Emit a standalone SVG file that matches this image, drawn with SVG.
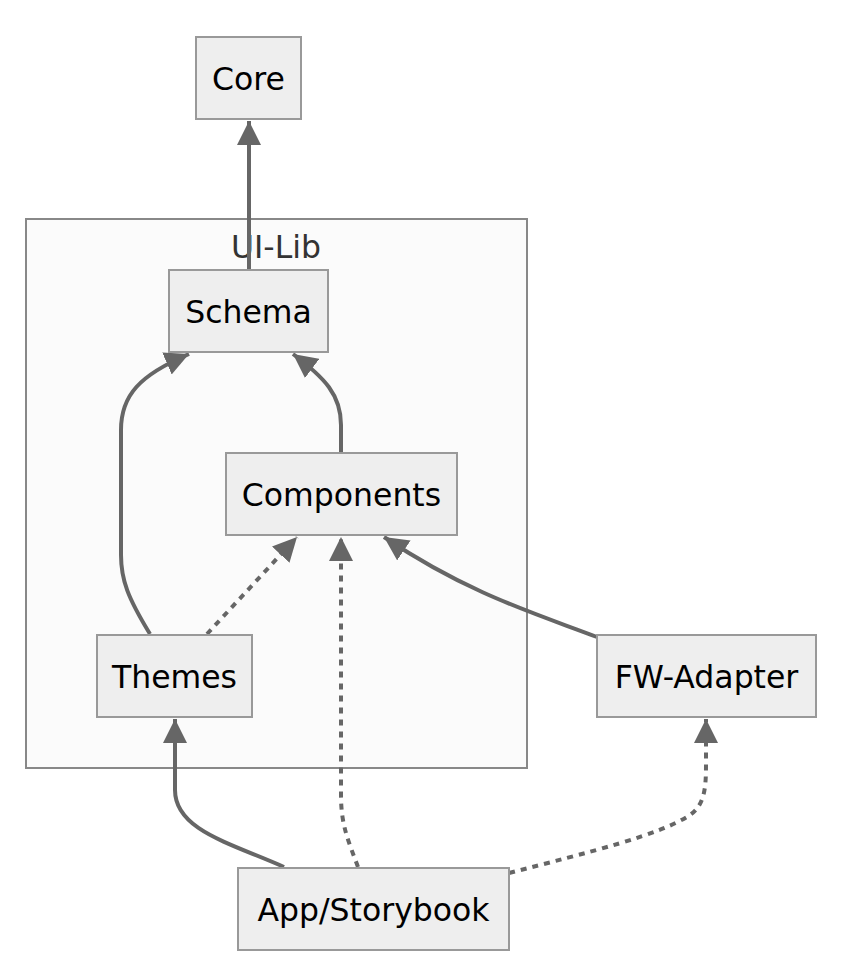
<svg xmlns="http://www.w3.org/2000/svg" width="852" height="970" viewBox="0 0 852 970">
<style>
.bg{fill:#ffffff}
.cluster rect{fill:#fbfbfb;stroke:#888888;stroke-width:2}
.cluster text{font-family:"DejaVu Sans",Verdana,sans-serif;font-size:31.5px;fill:#333333;text-anchor:middle}
.node rect{fill:#eeeeee;stroke:#999999;stroke-width:2}
.node text{font-family:"DejaVu Sans",Verdana,sans-serif;font-size:31.5px;fill:#000000;text-anchor:middle}
.edge{fill:none;stroke:#666666;stroke-width:4}
.dotted{stroke-dasharray:6 6}
</style>
<defs>
<marker id="arrow" markerUnits="userSpaceOnUse" markerWidth="24" markerHeight="24" refX="24" refY="12" orient="auto" viewBox="0 0 24 24">
<path d="M0,0 L24,12 L0,24 z" fill="#666666"/>
</marker>
</defs>
<rect class="bg" x="0" y="0" width="852" height="970"/>
<g id="cluster-UI-Lib" class="cluster">
<rect x="26" y="219" width="501" height="549"/>
<text x="276" y="258">UI-Lib</text>
</g>
<g id="edges">
<path class="edge" d="M249,270 L249,121" marker-end="url(#arrow)"/>
<path class="edge" d="M150,634 C128,598 121,580 121,555 L121,430 C121,395 140,375 189,354" marker-end="url(#arrow)"/>
<path class="edge" d="M341,452 L341,425 C341,395 325,378 293,354" marker-end="url(#arrow)"/>
<path class="edge dotted" d="M207,634 L297,537" marker-end="url(#arrow)"/>
<path class="edge dotted" d="M358,867 C348,840 341,825 341,795 L341,537" marker-end="url(#arrow)"/>
<path class="edge" d="M284,867 C230,843 175,830 175,790 L175,719" marker-end="url(#arrow)"/>
<path class="edge dotted" d="M509,873 C590,852 660,835 690,815 C704,805 706,790 706,765 L706,719" marker-end="url(#arrow)"/>
<path class="edge" d="M597,637 C540,615 470,595 384,537" marker-end="url(#arrow)"/>
</g>
<g id="node-Core" class="node">
<rect x="196" y="37" width="105" height="82"/>
<text x="248.5" y="89.5">Core</text>
</g>
<g id="node-Schema" class="node">
<rect x="169" y="270" width="159" height="82"/>
<text x="248.5" y="322.5">Schema</text>
</g>
<g id="node-Components" class="node">
<rect x="226" y="453" width="231" height="82"/>
<text x="341.5" y="505.5">Components</text>
</g>
<g id="node-Themes" class="node">
<rect x="97" y="635" width="155" height="82"/>
<text x="174.5" y="687.5">Themes</text>
</g>
<g id="node-FW-Adapter" class="node">
<rect x="597" y="635" width="219" height="82"/>
<text x="706.5" y="687.5">FW-Adapter</text>
</g>
<g id="node-App" class="node">
<rect x="238" y="868" width="271" height="82"/>
<text x="373.5" y="920.5">App/Storybook</text>
</g>
</svg>
